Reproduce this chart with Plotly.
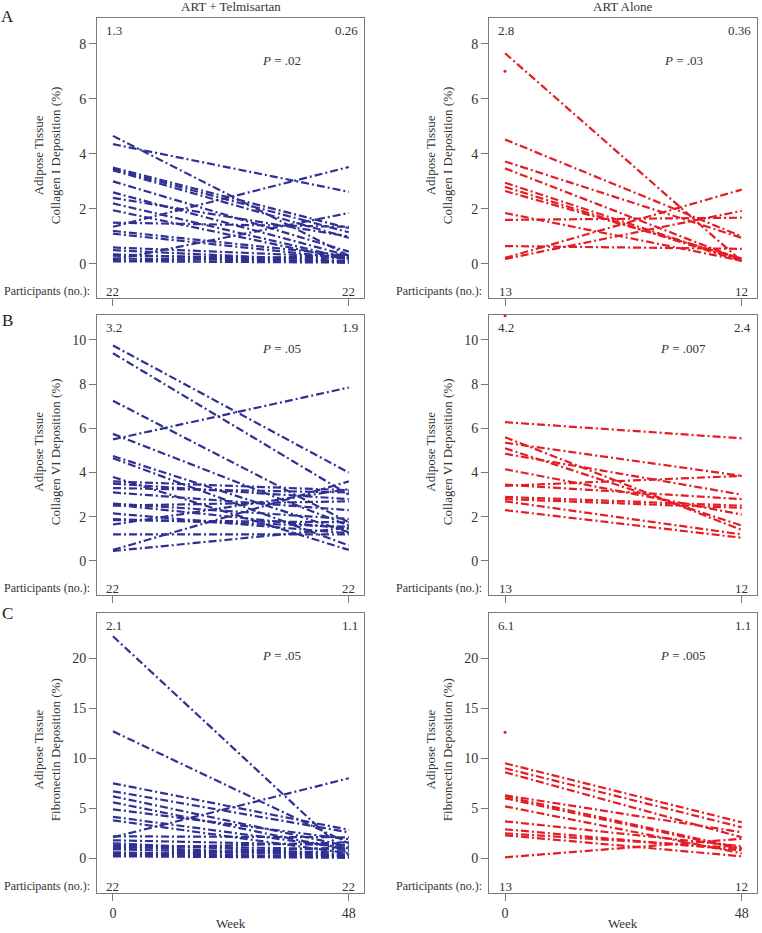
import plotly.graph_objects as go

weeks = [0, 48]

# Panel A: Collagen I deposition (%)
a_tel_w0 = [4.65, 4.35, 3.5, 3.45, 3.4, 3.0, 2.6, 2.4, 2.2, 1.95, 1.5, 1.35, 1.2, 1.1, 0.6, 0.5, 0.35, 0.3, 0.2, 0.15, 0.1, 0.1]
a_tel_w48 = [0.3, 2.62, 1.3, 1.15, 0.95, 0.45, 0.3, 1.0, 0.2, 0.15, 1.35, 3.52, 0.3, 0.2, 0.25, 0.1, 0.05, 0.2, 0.1, 1.85, 0.3, 0.05]
a_art_w0 = [7.65, 4.52, 3.72, 3.47, 2.95, 2.8, 2.65, 1.85, 1.6, 0.65, 0.22, 0.18]
a_art_w48 = [0.1, 1.0, 0.95, 0.15, 0.12, 0.1, 0.2, 0.12, 1.68, 0.55, 2.7, 1.93]
a_art_single = [7.0]

# Panel B: Collagen VI deposition (%)
b_tel_w0 = [9.75, 9.4, 7.25, 5.75, 5.5, 4.75, 4.65, 3.8, 3.6, 3.5, 3.3, 3.1, 2.6, 2.55, 2.5, 2.15, 1.9, 1.85, 1.65, 1.2, 0.5, 0.45]
b_tel_w48 = [4.0, 3.0, 1.75, 1.6, 7.85, 1.3, 0.7, 0.5, 3.2, 2.8, 3.1, 2.3, 1.9, 1.45, 2.7, 1.25, 1.55, 1.75, 3.25, 1.2, 3.6, 1.5]
b_art_w0 = [6.28, 5.6, 5.35, 5.1, 4.85, 4.15, 3.45, 3.4, 2.9, 2.8, 2.7, 2.3]
b_art_w48 = [5.55, 1.4, 3.85, 1.6, 3.0, 2.1, 2.8, 3.85, 2.5, 2.4, 1.2, 1.05]
b_art_single = [11.1]

# Panel C: Fibronectin deposition (%)
c_tel_w0 = [22.2, 12.7, 7.5, 6.7, 6.2, 5.6, 4.9, 4.15, 3.8, 2.2, 2.1, 1.8, 1.5, 1.3, 1.2, 1.0, 0.9, 0.6, 0.45, 0.3, 0.25, 0.2]
c_tel_w48 = [0.3, 1.5, 2.85, 2.6, 1.2, 0.8, 1.9, 1.0, 0.5, 2.1, 8.0, 1.3, 0.4, 0.9, 0.2, 1.6, 0.3, 0.1, 0.7, 0.15, 1.1, 0.05]
c_art_w0 = [9.5, 9.0, 8.6, 6.3, 6.2, 6.0, 5.2, 3.7, 2.9, 2.5, 2.3, 0.1]
c_art_w48 = [3.6, 3.1, 2.1, 2.6, 1.0, 0.9, 0.5, 1.2, 0.8, 1.0, 0.2, 1.95]
c_art_single = [12.6]

col_titles = ["ART + Telmisartan", "ART Alone"]
row_letters = ["A", "B", "C"]
y_titles = ["Adipose Tissue<br>Collagen I Deposition (%)",
            "Adipose Tissue<br>Collagen VI Deposition (%)",
            "Adipose Tissue<br>Fibronectin Deposition (%)"]
medians_w0 = [["1.3", "2.8"], ["3.2", "4.2"], ["2.1", "6.1"]]
medians_w48 = [["0.26", "0.36"], ["1.9", "2.4"], ["1.1", "1.1"]]
p_values = [[".02", ".03"], [".05", ".007"], [".05", ".005"]]
n_w0 = [["22", "13"], ["22", "13"], ["22", "13"]]
n_w48 = [["22", "12"], ["22", "12"], ["22", "12"]]
y_ticks = [[0, 2, 4, 6, 8], [0, 2, 4, 6, 8, 10], [0, 5, 10, 15, 20]]
y_ranges = [[-1.235, 8.93], [-1.54, 11.13], [-3.47, 24.53]]

data = [
    [(a_tel_w0, a_tel_w48, []), (a_art_w0, a_art_w48, a_art_single)],
    [(b_tel_w0, b_tel_w48, []), (b_art_w0, b_art_w48, b_art_single)],
    [(c_tel_w0, c_tel_w48, []), (c_art_w0, c_art_w48, c_art_single)],
]

colors = ["rgb(46,49,146)", "rgb(228,28,36)"]
W, H = 762, 933
x_doms = [[97 / W, 364 / W], [489 / W, 757 / W]]
y_doms = [[1 - 298 / H, 1 - 18 / H], [1 - 595 / H, 1 - 315 / H], [1 - 893 / H, 1 - 613 / H]]
FONT = "Liberation Serif"
TXT = "#333333"
BOX = "#7a7a7a"
FS = 13

fig = go.Figure()
layout = {}
annotations = []

for r in range(3):
    for c in range(2):
        n = r * 2 + c + 1
        xa = "x" if n == 1 else f"x{n}"
        ya = "y" if n == 1 else f"y{n}"
        xkey = "xaxis" if n == 1 else f"xaxis{n}"
        ykey = "yaxis" if n == 1 else f"yaxis{n}"
        w0, w48, single = data[r][c]
        for v0, v1 in zip(w0, w48):
            fig.add_trace(go.Scatter(
                x=weeks, y=[v0, v1], mode="lines", xaxis=xa, yaxis=ya,
                line=dict(color=colors[c], width=2.2, dash="8px,3px,2px,3px"),
                showlegend=False, hoverinfo="skip"))
        for v in single:
            fig.add_trace(go.Scatter(
                x=[0], y=[v], mode="markers", xaxis=xa, yaxis=ya,
                marker=dict(color=colors[c], size=3),
                showlegend=False, hoverinfo="skip", cliponaxis=False))
        layout[xkey] = dict(
            domain=x_doms[c], anchor=ya, range=[-3.25, 51.1],
            tickvals=[0, 48], ticktext=["0", "48"], ticks="outside", ticklen=7,
            tickcolor=BOX, showticklabels=(r == 2), showgrid=False, zeroline=False,
            showline=True, mirror=True, linecolor=BOX, linewidth=1,
            tickfont=dict(family=FONT, size=FS + 1, color=TXT))
        layout[ykey] = dict(
            domain=y_doms[r], anchor=xa, range=y_ranges[r],
            tickvals=y_ticks[r], ticks="outside", ticklen=7, tickcolor=BOX,
            showgrid=False, zeroline=False, showline=True, mirror=True,
            linecolor=BOX, linewidth=1,
            tickfont=dict(family=FONT, size=FS + 1, color=TXT))
        xd = f"{xa} domain"
        yd = f"{ya} domain"
        base = dict(showarrow=False, font=dict(family=FONT, size=FS, color=TXT))
        annotations += [
            dict(text=medians_w0[r][c], x=0.025, y=0.955, xref=xd, yref=yd,
                 xanchor="left", yanchor="middle", **base),
            dict(text=medians_w48[r][c], x=0.985, y=0.955, xref=xd, yref=yd,
                 xanchor="right", yanchor="middle", **base),
            dict(text=n_w0[r][c], x=0, y=0.025, xref=xa, yref=yd,
                 xanchor="center", yanchor="middle", **base),
            dict(text=n_w48[r][c], x=48, y=0.025, xref=xa, yref=yd,
                 xanchor="center", yanchor="middle", **base),
            dict(text="Participants (no.):", x=-0.018, y=0.025, xref=xd, yref=yd,
                 xanchor="right", yanchor="middle", showarrow=False,
                 font=dict(family=FONT, size=12, color=TXT)),
            dict(text="<i>P</i> = " + p_values[r][c], x=0.69 if c == 0 else 0.725,
                 y=0.85 if r != 1 else 0.88, xref=xd, yref=yd,
                 xanchor="center", yanchor="middle", **base),
            dict(text=y_titles[r], x=(x_doms[c][0] * W - 50) / W, y=0.51,
                 xref="paper", yref=yd, textangle=-90,
                 xanchor="center", yanchor="middle", **base),
        ]
        if r == 2:
            annotations.append(dict(text="Week", x=0.5, y=1 - 923 / H, xref=xd, yref="paper",
                                    xanchor="center", yanchor="middle", **base))
        if r == 0:
            annotations.append(dict(text=col_titles[c], x=0.5, y=1 - 7 / H, xref=xd, yref="paper",
                                    xanchor="center", yanchor="middle", **base))
    annotations.append(dict(text=row_letters[r], x=7 / W, y=1 - [17, 320, 613][r] / H,
                            xref="paper", yref="paper", xanchor="center", yanchor="middle",
                            showarrow=False, font=dict(family=FONT, size=17, color="#222222")))

fig.update_layout(
    width=W, height=H, margin=dict(l=0, r=0, t=0, b=0),
    paper_bgcolor="white", plot_bgcolor="white",
    annotations=annotations, **layout)

fig.write_html("out.html", config={"displayModeBar": False},
               post_script="document.body.style.margin='0';document.body.style.overflow='hidden';")
